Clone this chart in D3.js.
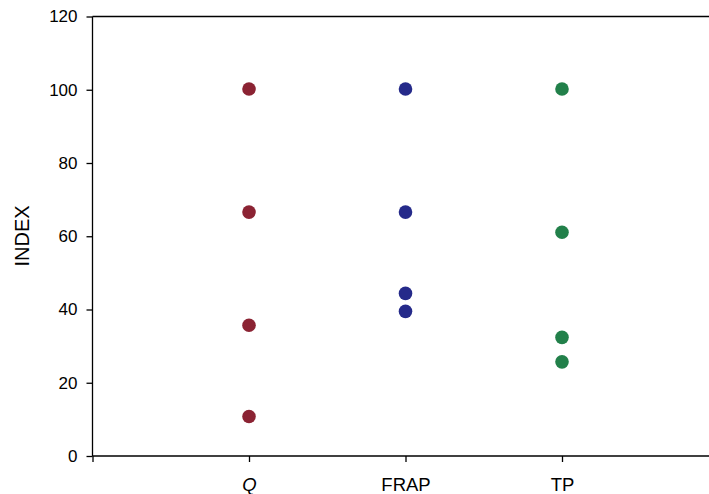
<!DOCTYPE html>
<html><head><meta charset="utf-8">
<script src="https://cdn.jsdelivr.net/npm/d3@7"></script>
<style>body{margin:0;background:#fff}svg{display:block}text{font-family:"Liberation Sans",Arial,sans-serif}</style>
</head><body>
<script>
const categories = ["Q", "FRAP", "TP"];
const qValues = [100.2, 66.6, 35.7, 10.8];
const frapValues = [100.2, 66.6, 44.4, 39.5];
const tpValues = [100.2, 61.1, 32.4, 25.7];
const seriesColors = ["#8b2333", "#252a8a", "#22804a"];
const yTicks = [0, 20, 40, 60, 80, 100, 120];

const W = 709, H = 494;
const svg = d3.select("body").append("svg").attr("width", W).attr("height", H);
const mLeft = 92.5, mBottom = 456, mTop = 16.5, step = 156.5;

const x = d3.scaleLinear().domain([0, 4]).range([mLeft, mLeft + 4 * step]);
const y = d3.scaleLinear().domain([0, 120]).range([mBottom, mTop]);

// frame top line
svg.append("line").attr("x1", mLeft).attr("x2", W + 20).attr("y1", y(120)).attr("y2", y(120)).attr("stroke", "#000").attr("stroke-width", 1.3);

const yAxis = svg.append("g").attr("transform", `translate(${mLeft},0)`)
  .call(d3.axisLeft(y).tickValues(yTicks).tickSize(6).tickPadding(9));
yAxis.attr("font-family", null).attr("font-size", null);
yAxis.select(".domain").attr("stroke-width", 1.3).attr("d", `M0,${mTop}V${mBottom}`);
yAxis.selectAll("line").attr("stroke-width", 1.3);
yAxis.selectAll("text").attr("font-size", 17).attr("fill", "#000");

const xAxis = svg.append("g").attr("transform", `translate(0,${mBottom})`)
  .call(d3.axisBottom(x).tickValues([0, 1, 2, 3, 4]).tickSize(6)
    .tickFormat(d => (d >= 1 && d <= 3) ? categories[d - 1] : ""));
xAxis.attr("font-family", null).attr("font-size", null);
xAxis.select(".domain").attr("stroke-width", 1.3).attr("d", `M${mLeft},0H${W + 20}`);
xAxis.selectAll("line").attr("stroke-width", 1.3);
xAxis.selectAll("text").attr("font-size", 18.5).attr("fill", "#000")
  .attr("y", 35).attr("dy", null)
  .attr("font-style", d => d === 1 ? "italic" : "normal");

svg.append("text").attr("transform", `translate(29,236) rotate(-90)`)
  .attr("text-anchor", "middle").attr("font-size", 20).text("INDEX");

const series = [qValues, frapValues, tpValues];
series.forEach((vals, i) => {
  svg.append("g").selectAll("circle").data(vals).join("circle")
    .attr("cx", x(i + 1)).attr("cy", d => y(d)).attr("r", 6.8)
    .attr("fill", seriesColors[i]);
});
</script>
</body></html>
